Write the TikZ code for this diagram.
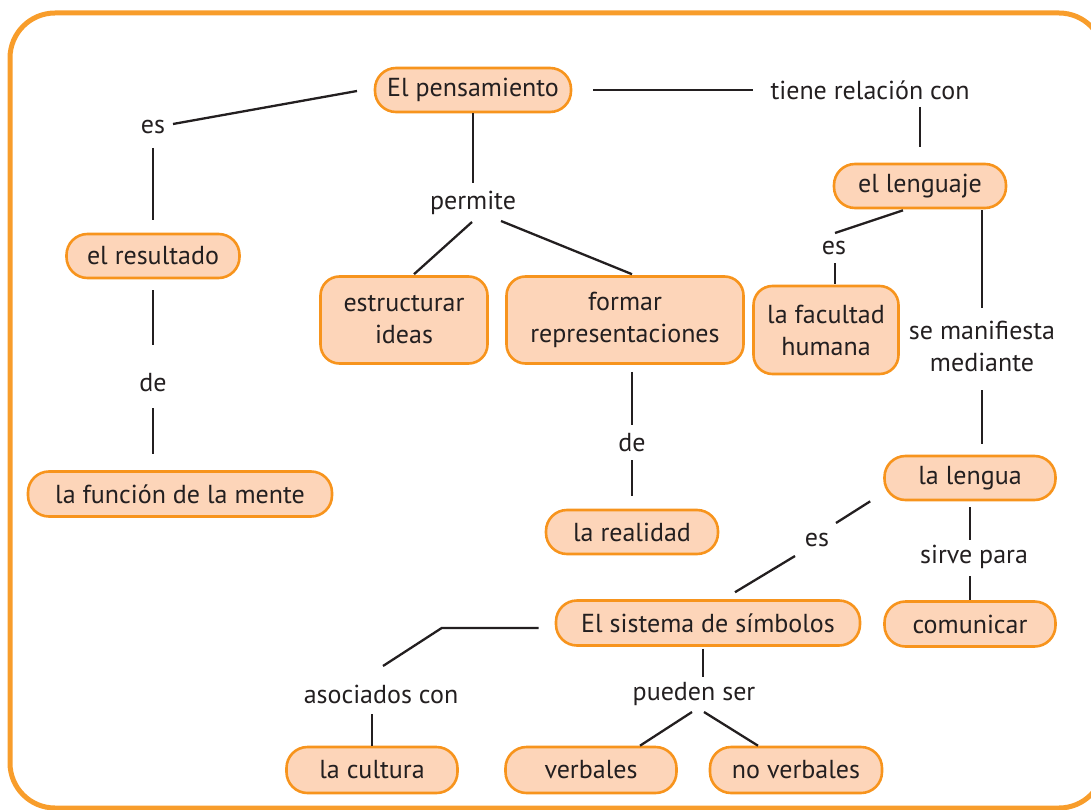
\documentclass[tikz,border=0pt]{standalone}
\usepackage{fontspec}
\setmainfont{PT Sans}
\usetikzlibrary{calc}
\definecolor{orng}{HTML}{F7941D}
\definecolor{framec}{HTML}{F89D2B}
\definecolor{peach}{HTML}{FDD5B9}
\definecolor{txt}{HTML}{231F20}
\begin{document}
\begin{tikzpicture}[x=1pt,y=-1pt,
  box/.style={draw=orng, fill=peach, line width=2.6pt, rounded corners=21pt, inner sep=0pt,
    text=txt, font=\fontsize{26}{32}\selectfont, align=center},
  tall/.style={box, rounded corners=19pt},
  lbl/.style={text=txt, font=\fontsize{26}{32}\selectfont, inner sep=0pt, align=center},
  conn/.style={line width=2.3pt, draw=txt}]
\useasboundingbox (0,0) rectangle (1091,810);
\clip (0,0) rectangle (1091,810);
\draw[framec, line width=5pt, rounded corners=45pt] (10,13) rectangle (1104,808);

% concept boxes
\node[box, minimum width=196pt, minimum height=44pt] (p1) at (473,90) {El pensamiento};
\node[box, minimum width=172pt, minimum height=44pt] (leng) at (920,186) {el lenguaje};
\node[box, minimum width=173pt, minimum height=44pt] (res) at (153,256) {el resultado};
\node[box, minimum width=304pt, minimum height=45pt] (func) at (180,494) {la función de la mente};
\node[tall, minimum width=167pt, minimum height=87pt] (estr) at (404,320) {estructurar\\ideas};
\node[tall, minimum width=237pt, minimum height=87pt] (form) at (625,320) {formar\\representaciones};
\node[box, minimum width=172pt, minimum height=44pt] (real) at (632,532) {la realidad};
\node[tall, minimum width=145pt, minimum height=88pt] (fac) at (826,330) {la facultad\\humana};
\node[box, minimum width=171pt, minimum height=44pt] (lengua) at (970,478) {la lengua};
\node[box, minimum width=304pt, minimum height=45pt] (sist) at (708,623) {El sistema de símbolos};
\node[box, minimum width=171pt, minimum height=45pt] (com) at (970,624) {comunicar};
\node[box, minimum width=171pt, minimum height=46pt] (cult) at (372,770) {la cultura};
\node[box, minimum width=171pt, minimum height=46pt] (verb) at (591,770) {verbales};
\node[box, minimum width=172pt, minimum height=46pt] (nover) at (796,770) {no verbales};

% linking words
\node[lbl] (es1) at (153,127) {es};
\node[lbl] (de1) at (153,383) {de};
\node[lbl] (tiene) at (870,90) {tiene relación con};
\node[lbl] (perm) at (473,203) {permite};
\node[lbl] (de2) at (632,443) {de};
\node[lbl] (es2) at (834,248) {es};
\node[lbl] (seman) at (982,346) {se manifiesta\\mediante};
\node[lbl] (es3) at (817,540) {es};
\node[lbl] (sirve) at (974,557) {sirve para};
\node[lbl] (asoc) at (381,694) {asociados con};
\node[lbl] (pueden) at (694,694) {pueden ser};

% connectors
\draw[conn] ($(es1)+(20,-3)$) -- ($(p1)+(-116,1)$);
\draw[conn] ($(es1)+(0,21)$) -- ($(res)+(0,-36)$);
\draw[conn] ($(res)+(0,34)$) -- ($(de1)+(0,-38)$);
\draw[conn] ($(de1)+(0,25)$) -- ($(de1|-func.north)+(0,-16)$);
\draw[conn] ($(p1.east)+(21,0)$) -- ($(tiene)+(-117,0)$);
\draw[conn] ($(tiene)+(50,17)$) -- ($(leng.north)+(0,-16)$);
\draw[conn] (p1.south) -- ($(perm)+(0,-20)$);
\draw[conn] ($(perm)+(-1,19)$) -- ($(estr.north)+(10,-1)$);
\draw[conn] ($(perm)+(28,18)$) -- ($(form.north)+(7,-1)$);
\draw[conn] ($(de2|-form.south)+(0,7)$) -- ($(de2)+(0,-18)$);
\draw[conn] ($(de2)+(0,17)$) -- ($(real.north)+(0,-13)$);
\draw[conn] ($(leng.south)+(-17,1)$) -- ($(es2)+(1,-15)$);
\draw[conn] ($(es2)+(1,15)$) -- ($(es2|-fac.north)+(1,-1)$);
\draw[conn] ($(leng.south)+(62,1)$) -- ($(seman)+(0,-38)$);
\draw[conn] ($(seman)+(0,44)$) -- ($(seman|-lengua.north)+(0,-11)$);
\draw[conn] ($(lengua.south west)+(-13,0)$) -- ($(es3)+(19,-17)$);
\draw[conn] ($(es3)+(-22,16)$) -- ($(sist.north)+(27,-7)$);
\draw[conn] ($(lengua.south)+(0,6)$) -- ($(sirve)+(-4,-17)$);
\draw[conn] ($(sirve)+(-4,19)$) -- (com.north);
\draw[conn] ($(sist.west)+(-16,5)$) -- ($(sist.west)+(-113,5)$) -- ($(asoc)+(2,-28)$);
\draw[conn] ($(cult|-asoc)+(0,20)$) -- (cult.north);
\draw[conn] ($(sist.south)+(-5,2)$) -- ($(pueden)+(9,-17)$);
\draw[conn] ($(pueden)+(-2,18)$) -- ($(verb.north)+(49,0)$);
\draw[conn] ($(pueden)+(10,18)$) -- ($(nover.north)+(-38,0)$);
\end{tikzpicture}
\end{document}
